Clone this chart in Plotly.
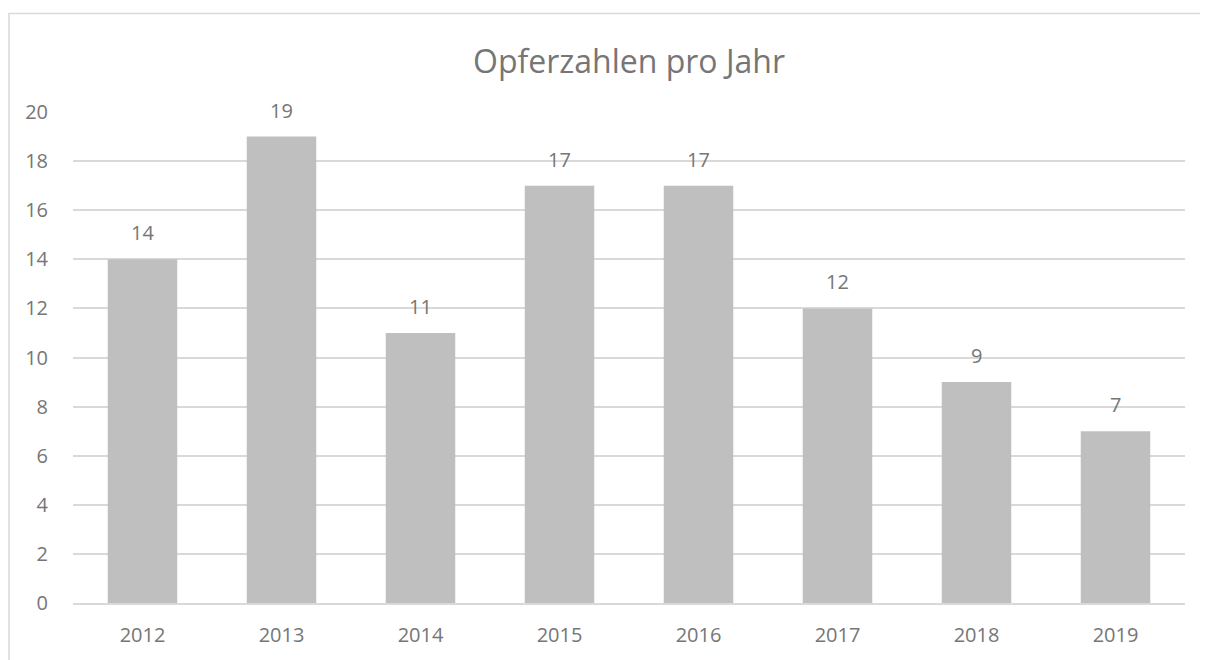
import plotly.graph_objects as go

years = ["2012", "2013", "2014", "2015", "2016", "2017", "2018", "2019"]
victims = [14, 19, 11, 17, 17, 12, 9, 7]
y_ticks = [0, 2, 4, 6, 8, 10, 12, 14, 16, 18, 20]

# page body adds an 8px offset; figure sized to fit the 1208x660 window
W, H = 1200, 652
ML, MR, MT, MB = 65, 23, 104, 57
pw = W - ML - MR
ph = H - MT - MB

txt = "#767676"
font = "Open Sans, Liberation Sans, sans-serif"

fig = go.Figure(go.Bar(x=years, y=victims, marker=dict(color="#bfbfbf", line=dict(width=0)),
                       hoverinfo="x+y"))

# annotations on a category axis: position by category index
for i, v in enumerate(victims):
    fig.add_annotation(x=i, y=v, text=str(v), showarrow=False, yanchor="bottom",
                       yshift=11, font=dict(size=20, color=txt, family=font))

fig.update_layout(
    width=W, height=H,
    margin=dict(l=ML, r=MR, t=MT, b=MB),
    paper_bgcolor="white", plot_bgcolor="white",
    bargap=0.5,
    showlegend=False,
    title=dict(text="Opferzahlen pro Jahr", x=0.5, xref="paper", y=1 - 54 / H,
               yref="container", xanchor="center", yanchor="middle",
               font=dict(size=32, color=txt, family=font)),
    font=dict(family=font, color=txt, size=20),
    xaxis=dict(type="category", range=[-0.5, len(years) - 0.5], showgrid=False,
               showline=True, linecolor="#d9d9d9", linewidth=1.5,
               ticks="outside", ticklen=13, tickcolor="rgba(0,0,0,0)",
               tickfont=dict(size=20, color=txt)),
    yaxis=dict(range=[0, 20], tickvals=y_ticks, showgrid=True, gridcolor="#d9d9d9",
               gridwidth=1.5, zeroline=False, showline=False,
               ticks="outside", ticklen=20, tickcolor="rgba(0,0,0,0)",
               tickfont=dict(size=20, color=txt)),
    shapes=[dict(type="rect", xref="paper", yref="paper",
                 x0=(1 - ML) / pw, x1=(W + 20 - ML) / pw,
                 y0=-(H + 20 - MT - ph) / ph, y1=(MT + ph - 5.5) / ph,
                 line=dict(color="#d9d9d9", width=1.5), fillcolor="rgba(0,0,0,0)",
                 layer="below")],
)

fig.write_html("out.html")
